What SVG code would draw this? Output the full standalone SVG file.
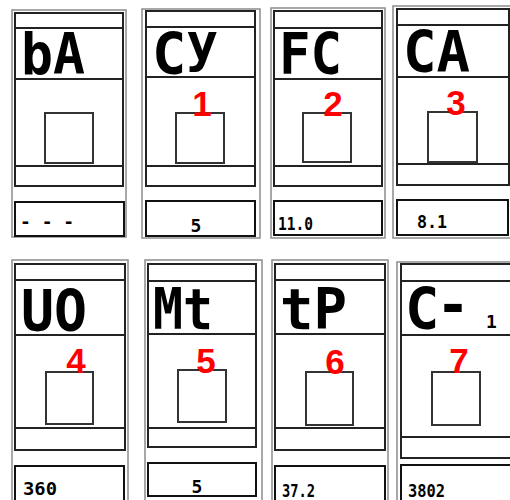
<svg xmlns="http://www.w3.org/2000/svg" width="510" height="500" viewBox="0 0 510 500">
<style>
.outer{fill:none;stroke:#8c8c8c;stroke-width:1.5}
.inner{fill:none;stroke:#222;stroke-width:2}
.ln{stroke:#222;stroke-width:2}
.sq{fill:#fff;stroke:#333;stroke-width:2}
.box{fill:#fff;stroke:#111;stroke-width:2}
.seg{font-family:"DejaVu Sans Mono",monospace;font-weight:bold;font-size:57px;fill:#000}
.small{font-family:"DejaVu Sans Mono",monospace;font-weight:bold;font-size:18px;fill:#000}
.num{font-family:"Liberation Sans",Arial,sans-serif;font-weight:bold;font-size:35px;fill:#ff0000;text-anchor:middle}
</style>
<rect width="510" height="500" fill="#fff"/>

<g id="panel-bA">
<rect class="outer" x="12" y="10" width="114" height="227"/>
<rect class="inner" x="15" y="13" width="108" height="173"/>
<line class="ln" x1="15" y1="28" x2="123" y2="28"/>
<line class="ln" x1="15" y1="79" x2="123" y2="79"/>
<line class="ln" x1="15" y1="166" x2="123" y2="166"/>
<rect class="sq" x="45" y="113" width="48" height="50"/>
<rect class="box" x="15" y="202" width="109" height="34"/>
<text class="seg" x="21" y="74" textLength="64" lengthAdjust="spacingAndGlyphs">bA</text>
<text class="small" x="20" y="228" font-size="13">- - -</text>
</g>

<g id="panel-Cy">
<rect class="outer" x="142" y="9" width="118" height="229"/>
<rect class="inner" x="146" y="11" width="109" height="175"/>
<line class="ln" x1="146" y1="27" x2="255" y2="27"/>
<line class="ln" x1="146" y1="77" x2="255" y2="77"/>
<line class="ln" x1="146" y1="166" x2="255" y2="166"/>
<rect class="sq" x="176" y="113" width="48" height="50"/>
<rect class="box" x="146" y="201" width="109" height="35"/>
<text class="seg" x="152" y="74">C<tspan font-size="53" dy="-13">y</tspan></text>
<text class="num" x="202" y="116">1</text>
<text class="small" x="196" y="232" text-anchor="middle">5</text>
</g>

<g id="panel-FC">
<rect class="outer" x="271" y="8" width="114" height="230"/>
<rect class="inner" x="274" y="11" width="108" height="175"/>
<line class="ln" x1="274" y1="28" x2="382" y2="28"/>
<line class="ln" x1="274" y1="79" x2="382" y2="79"/>
<line class="ln" x1="274" y1="166" x2="382" y2="166"/>
<rect class="sq" x="303" y="113" width="48" height="49"/>
<rect class="box" x="274" y="201" width="108" height="34"/>
<text class="seg" x="279" y="74" textLength="63" lengthAdjust="spacingAndGlyphs">FC</text>
<text class="num" x="333" y="116">2</text>
<text class="small" x="278" y="230" textLength="35" lengthAdjust="spacingAndGlyphs">11.0</text>
</g>

<g id="panel-CA">
<rect class="outer" x="393" y="6" width="120" height="232"/>
<rect class="inner" x="397" y="9" width="112" height="176"/>
<line class="ln" x1="397" y1="25" x2="509" y2="25"/>
<line class="ln" x1="397" y1="77" x2="509" y2="77"/>
<line class="ln" x1="397" y1="164" x2="509" y2="164"/>
<rect class="sq" x="428" y="112" width="49" height="50"/>
<rect class="box" x="397" y="200" width="111" height="35"/>
<text class="seg" x="403" y="72" textLength="67" lengthAdjust="spacingAndGlyphs">CA</text>
<text class="num" x="456" y="115">3</text>
<text class="small" x="417" y="228" textLength="30" lengthAdjust="spacingAndGlyphs">8.1</text>
</g>

<g id="panel-UO">
<rect class="outer" x="12" y="260" width="116" height="245"/>
<rect class="inner" x="15" y="264" width="110" height="186"/>
<line class="ln" x1="15" y1="280" x2="125" y2="280"/>
<line class="ln" x1="15" y1="335" x2="125" y2="335"/>
<line class="ln" x1="15" y1="428" x2="125" y2="428"/>
<rect class="sq" x="46" y="372" width="47" height="52"/>
<rect class="box" x="15" y="466" width="109" height="40"/>
<text class="seg" x="21" y="331" textLength="66" lengthAdjust="spacingAndGlyphs">UO</text>
<text class="num" x="76" y="373">4</text>
<text class="small" x="23" y="495" textLength="34" lengthAdjust="spacingAndGlyphs">360</text>
</g>

<g id="panel-Mt">
<rect class="outer" x="145" y="260" width="117" height="245"/>
<rect class="inner" x="148" y="264" width="108" height="183"/>
<line class="ln" x1="148" y1="281" x2="256" y2="281"/>
<line class="ln" x1="148" y1="334" x2="256" y2="334"/>
<line class="ln" x1="148" y1="428" x2="256" y2="428"/>
<rect class="sq" x="178" y="370" width="48" height="52"/>
<rect class="box" x="148" y="463" width="108" height="33"/>
<text class="seg" x="153" y="329" textLength="60" lengthAdjust="spacingAndGlyphs">Mt</text>
<text class="num" x="206" y="373">5</text>
<text class="small" x="197" y="493" text-anchor="middle">5</text>
</g>

<g id="panel-tP">
<rect class="outer" x="272" y="260" width="116" height="245"/>
<rect class="inner" x="275" y="264" width="110" height="186"/>
<line class="ln" x1="275" y1="280" x2="385" y2="280"/>
<line class="ln" x1="275" y1="334" x2="385" y2="334"/>
<line class="ln" x1="275" y1="428" x2="385" y2="428"/>
<rect class="sq" x="306" y="372" width="47" height="53"/>
<rect class="box" x="275" y="466" width="110" height="40"/>
<text class="seg" x="280" y="329" textLength="67" lengthAdjust="spacingAndGlyphs">tP</text>
<text class="num" x="335" y="374">6</text>
<text class="small" x="282" y="497" textLength="33" lengthAdjust="spacingAndGlyphs">37.2</text>
</g>

<g id="panel-C-1">
<rect class="outer" x="397" y="262" width="120" height="245"/>
<rect class="inner" x="401" y="264" width="116" height="194"/>
<line class="ln" x1="401" y1="281" x2="517" y2="281"/>
<line class="ln" x1="401" y1="335" x2="517" y2="335"/>
<line class="ln" x1="401" y1="437" x2="517" y2="437"/>
<rect class="sq" x="432" y="372" width="48" height="53"/>
<rect class="box" x="401" y="465" width="116" height="40"/>
<text class="seg" x="405" y="329">C</text>
<text class="seg" x="436" y="324" textLength="34" lengthAdjust="spacingAndGlyphs">-</text>
<text class="small" x="486" y="328" font-size="20">1</text>
<text class="num" x="459" y="373">7</text>
<text class="small" x="408" y="497" textLength="37" lengthAdjust="spacingAndGlyphs">3802</text>
</g>
</svg>
